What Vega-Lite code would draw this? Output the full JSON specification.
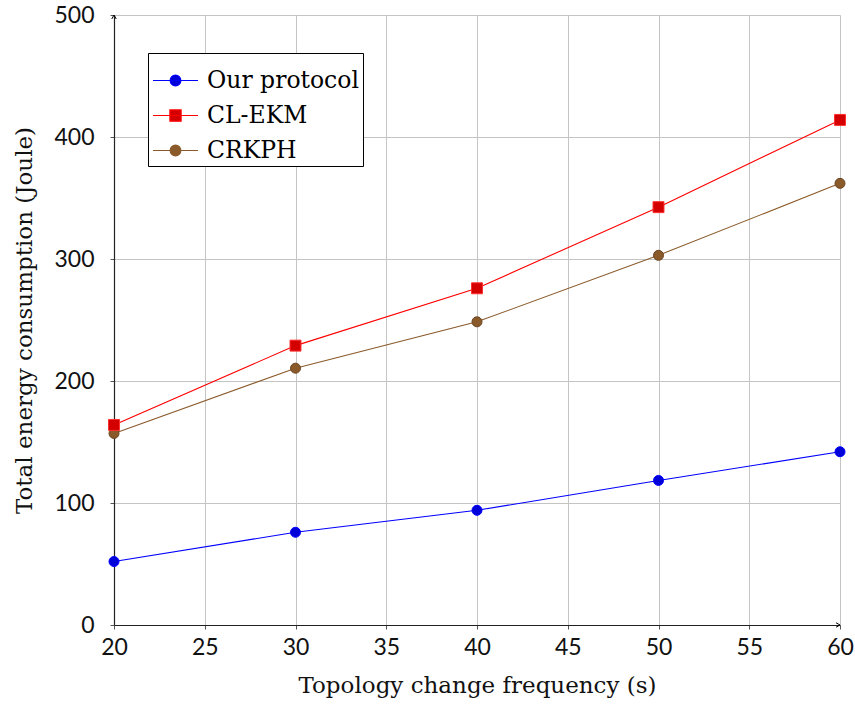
{
  "$schema": "https://vega.github.io/schema/vega-lite/v6.json",
  "width": 726,
  "height": 610,
  "autosize": {"type": "none"},
  "padding": {"left": 114, "top": 15, "right": 15, "bottom": 81},
  "background": "white",
  "config": {
    "view": {"stroke": null},
    "axis": {
      "gridColor": "#c4c4c4",
      "gridWidth": 1,
      "domainColor": "#222222",
      "domainWidth": 1.2,
      "tickColor": "#555555",
      "tickSize": 4,
      "labelFont": "Lato",
      "labelFontSize": 23,
      "labelColor": "#111111",
      "labelFlush": false,
      "titleFont": "DejaVu Serif",
      "titleFontSize": 23,
      "titleFontWeight": "normal",
      "titleColor": "#111111"
    }
  },
  "data": {
    "values": [
      {"x": 20, "y": 52, "series": "Our protocol"},
      {"x": 30, "y": 76, "series": "Our protocol"},
      {"x": 40, "y": 94, "series": "Our protocol"},
      {"x": 50, "y": 118.5, "series": "Our protocol"},
      {"x": 60, "y": 142, "series": "Our protocol"},
      {"x": 20, "y": 164, "series": "CL-EKM"},
      {"x": 30, "y": 229, "series": "CL-EKM"},
      {"x": 40, "y": 276, "series": "CL-EKM"},
      {"x": 50, "y": 342.5, "series": "CL-EKM"},
      {"x": 60, "y": 414, "series": "CL-EKM"},
      {"x": 20, "y": 157, "series": "CRKPH"},
      {"x": 30, "y": 210.5, "series": "CRKPH"},
      {"x": 40, "y": 248.5, "series": "CRKPH"},
      {"x": 50, "y": 303, "series": "CRKPH"},
      {"x": 60, "y": 362, "series": "CRKPH"}
    ]
  },
  "encoding": {
    "x": {
      "field": "x", "type": "quantitative",
      "scale": {"domain": [20, 60], "nice": false, "zero": false},
      "axis": {"values": [20, 25, 30, 35, 40, 45, 50, 55, 60], "title": "Topology change frequency (s)", "labelPadding": 7, "titlePadding": 15}
    },
    "y": {
      "field": "y", "type": "quantitative",
      "scale": {"domain": [0, 500], "nice": false},
      "axis": {"values": [0, 100, 200, 300, 400, 500], "title": "Total energy consumption (Joule)", "labelPadding": 16, "titlePadding": 17}
    }
  },
  "layer": [
    {
      "mark": {"type": "line", "strokeWidth": 1.1},
      "encoding": {
        "color": {
          "field": "series", "type": "nominal",
          "scale": {"domain": ["Our protocol", "CL-EKM", "CRKPH"], "range": ["#0000ff", "#ff0000", "#8b5a2b"]},
          "legend": {
            "title": null,
            "orient": "none",
            "legendX": 34,
            "legendY": 38,
            "strokeColor": "#000000",
            "fillColor": "#ffffff",
            "padding": 4,
            "labelFont": "DejaVu Serif",
            "labelFontSize": 23.5,
            "labelColor": "#000000",
            "labelOffset": 8,
            "rowPadding": -6,
            "labelExpr": "datum.label + '\u00a0\u00a0'",
            "symbolSize": 2025,
            "encode": {
              "symbols": {
                "update": {
                  "shape": {"signal": "datum.value === 'CL-EKM' ? 'M-1,0L1,0M-0.25,-0.25L0.25,-0.25L0.25,0.25L-0.25,0.25Z' : 'M-1,0L1,0M-0.24,0A0.24,0.24 0 1,0 0.24,0A0.24,0.24 0 1,0 -0.24,0Z'"},
                  "fill": {"scale": "color", "field": "value"},
                  "stroke": {"scale": "color", "field": "value"},
                  "strokeWidth": {"value": 1.1},
                  "size": {"value": 2025},
                  "opacity": {"value": 1}
                }
              }
            }
          }
        }
      }
    },
    {
      "transform": [{"filter": "datum.series !== 'CL-EKM'"}],
      "mark": {"type": "point", "shape": "circle", "filled": true, "opacity": 1, "strokeWidth": 1, "size": 100},
      "encoding": {
        "fill": {
          "field": "series", "type": "nominal",
          "scale": {"domain": ["Our protocol", "CL-EKM", "CRKPH"], "range": ["#0000d8", "#d40000", "#8b5a2b"]},
          "legend": null
        },
        "stroke": {
          "field": "series", "type": "nominal",
          "scale": {"domain": ["Our protocol", "CL-EKM", "CRKPH"], "range": ["#0000ff", "#ff3030", "#6b4420"]},
          "legend": null
        }
      }
    },
    {
      "transform": [{"filter": "datum.series === 'CL-EKM'"}],
      "mark": {"type": "point", "shape": "square", "filled": true, "opacity": 1, "strokeWidth": 1, "size": 120},
      "encoding": {
        "fill": {
          "field": "series", "type": "nominal",
          "scale": {"domain": ["Our protocol", "CL-EKM", "CRKPH"], "range": ["#0000d8", "#d40000", "#8b5a2b"]},
          "legend": null
        },
        "stroke": {
          "field": "series", "type": "nominal",
          "scale": {"domain": ["Our protocol", "CL-EKM", "CRKPH"], "range": ["#0000ff", "#ff3030", "#6b4420"]},
          "legend": null
        }
      }
    },
    {
      "data": {"values": [{"x": 20, "y": 500, "dir": "up"}, {"x": 60, "y": 0, "dir": "right"}]},
      "mark": {"type": "point", "filled": false, "stroke": "#000000", "strokeWidth": 1, "size": 100, "opacity": 1, "clip": false},
      "encoding": {
        "shape": {
          "field": "dir", "type": "nominal",
          "scale": {"domain": ["up", "right"], "range": ["M-0.45,0.8L0,0L0.45,0.8", "M-0.8,-0.45L0,0L-0.8,0.45"]},
          "legend": null
        }
      }
    }
  ]
}
